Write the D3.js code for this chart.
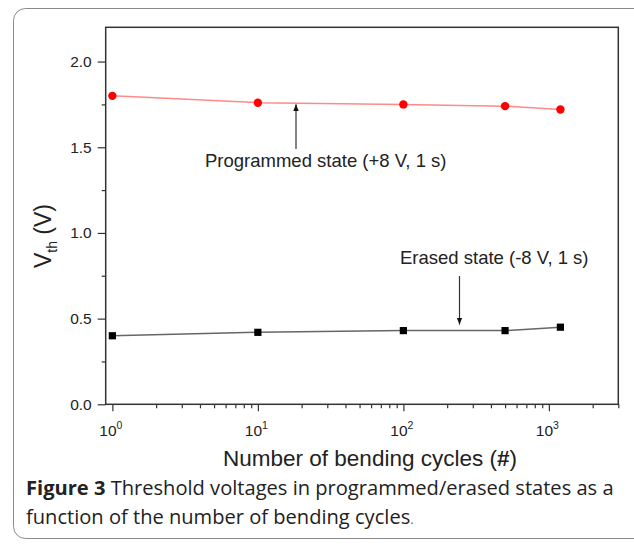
<!DOCTYPE html>
<html>
<head>
<meta charset="utf-8">
<script src="https://cdn.jsdelivr.net/npm/d3@7"></script>
<style>
body { margin: 0; background: #fff; }
svg { display: block; }
.tick text { font-family: "Liberation Sans", Arial, sans-serif; font-size: 15.5px; fill: #222; }
.tick line { stroke: #333; stroke-width: 1.2; }
.domain { display: none; }
</style>
</head>
<body>
<script>
var width = 634,
    height = 547;
var margin = {left: 105.7, right: 618.3, top: 27.3, bottom: 404.3};

var cycles = [1, 10, 100, 500, 1200];
var programmed = [1.80, 1.76, 1.75, 1.74, 1.72];
var erased = [0.40, 0.42, 0.43, 0.43, 0.45];
var yTicks = [0, 0.5, 1.0, 1.5, 2.0];
var yMinor = [0.25, 0.75, 1.25, 1.75];
var xTicks = [1, 10, 100, 1000];
var xDomain = [0.9, 3000],
    yDomain = [0, 2.2];

var svg = d3.select("body").append("svg")
    .attr("width", width)
    .attr("height", height);

// outer figure box
svg.append("rect")
    .attr("x", 13.5).attr("y", 8.5)
    .attr("width", 640).attr("height", 530)
    .attr("rx", 12)
    .attr("fill", "none")
    .attr("stroke", "#8a8a8a")
    .attr("stroke-width", 1);

var x = d3.scaleLog().domain(xDomain).range([margin.left, margin.right]);
var y = d3.scaleLinear().domain(yDomain).range([margin.bottom, margin.top]);

svg.append("defs").append("marker")
    .attr("id", "arrow")
    .attr("viewBox", "0 0 10 10")
    .attr("refX", 10).attr("refY", 5)
    .attr("markerWidth", 7).attr("markerHeight", 7)
    .attr("markerUnits", "userSpaceOnUse")
    .attr("orient", "auto")
    .append("path")
    .attr("d", "M0,1L10,5L0,9Z")
    .attr("fill", "#111");

// y axis
svg.append("g")
    .attr("transform", "translate(" + margin.left + ",0)")
    .call(d3.axisLeft(y).tickValues(yTicks).tickSize(8).tickPadding(6).tickFormat(d3.format(".1f")));
svg.append("g")
    .attr("transform", "translate(" + margin.left + ",0)")
    .call(d3.axisLeft(y).tickValues(yMinor).tickSize(4).tickFormat(""));

// x axis
var xMinor = x.ticks().filter(function (d) {
    return xTicks.indexOf(d) < 0 && d > 1;
});
var xAxisG = svg.append("g")
    .attr("transform", "translate(0," + margin.bottom + ")")
    .call(d3.axisBottom(x).tickValues(xTicks).tickSize(7).tickFormat(""));
svg.append("g")
    .attr("transform", "translate(0," + margin.bottom + ")")
    .call(d3.axisBottom(x).tickValues(xMinor).tickSize(4).tickFormat(""));

xAxisG.selectAll(".tick").append("text")
    .attr("y", 32)
    .attr("x", -2)
    .attr("text-anchor", "middle")
    .each(function (d) {
        var t = d3.select(this);
        t.append("tspan").text("10");
        t.append("tspan")
            .attr("dy", -7)
            .style("font-size", "10.5px")
            .text(Math.round(Math.log10(d)));
    });

// frame
svg.append("rect")
    .attr("x", margin.left).attr("y", margin.top)
    .attr("width", margin.right - margin.left)
    .attr("height", margin.bottom - margin.top)
    .attr("fill", "none")
    .attr("stroke", "#333")
    .attr("stroke-width", 1.5);

var line = d3.line()
    .x(function (d) { return x(d[0]); })
    .y(function (d) { return y(d[1]); });

var progData = d3.zip(cycles, programmed),
    eraData = d3.zip(cycles, erased);

svg.append("path")
    .attr("d", line(progData))
    .attr("fill", "none")
    .attr("stroke", "#ff8a8a")
    .attr("stroke-width", 1.5);
svg.selectAll("circle.prog")
    .data(progData)
    .enter().append("circle")
    .attr("class", "prog")
    .attr("cx", function (d) { return x(d[0]); })
    .attr("cy", function (d) { return y(d[1]); })
    .attr("r", 4.2)
    .attr("fill", "#ff0000");

svg.append("path")
    .attr("d", line(eraData))
    .attr("fill", "none")
    .attr("stroke", "#666")
    .attr("stroke-width", 1.5);
svg.selectAll("rect.era")
    .data(eraData)
    .enter().append("rect")
    .attr("class", "era")
    .attr("x", function (d) { return x(d[0]) - 3.6; })
    .attr("y", function (d) { return y(d[1]) - 3.6; })
    .attr("width", 7.2).attr("height", 7.2)
    .attr("fill", "#000");

// annotations
var label = "'Liberation Sans', Arial, sans-serif";
svg.append("line")
    .attr("x1", 296).attr("y1", 149)
    .attr("x2", 296).attr("y2", y(1.757) + 1)
    .attr("stroke", "#333").attr("stroke-width", 1.2)
    .attr("marker-end", "url(#arrow)");
svg.append("text")
    .attr("x", 205).attr("y", 167)
    .style("font-family", label).style("font-size", "18.5px").style("fill", "#222")
    .text("Programmed state (+8 V, 1 s)");

svg.append("line")
    .attr("x1", 459.5).attr("y1", 276)
    .attr("x2", 459.5).attr("y2", y(0.43) - 6)
    .attr("stroke", "#333").attr("stroke-width", 1.2)
    .attr("marker-end", "url(#arrow)");
svg.append("text")
    .attr("x", 400).attr("y", 264)
    .style("font-family", label).style("font-size", "18.5px").style("fill", "#222")
    .text("Erased state (-8 V, 1 s)");

// axis titles
var xt = svg.append("text")
    .attr("x", 370).attr("y", 466)
    .attr("text-anchor", "middle")
    .style("font-family", label).style("font-size", "22.5px").style("fill", "#222");
xt.append("tspan").text("Number of bending cycles (");
xt.append("tspan").style("font-weight", "bold").text("#");
xt.append("tspan").text(")");

var yt = svg.append("text")
    .attr("transform", "translate(51,236) rotate(-90)")
    .attr("text-anchor", "middle")
    .style("font-family", label).style("font-size", "23px").style("fill", "#222");
yt.append("tspan").text("V");
yt.append("tspan").attr("dy", 6).style("font-size", "14px").text("th");
yt.append("tspan").attr("dy", -6).text(" (V)");

// caption
var cap = "'Open Sans', 'Noto Sans', sans-serif";
var c1 = svg.append("text")
    .attr("x", 26).attr("y", 495)
    .style("font-family", cap).style("font-size", "20.1px").style("fill", "#222");
c1.append("tspan").style("font-weight", "bold").text("Figure 3");
c1.append("tspan").text(" Threshold voltages in programmed/erased states as a");
var c2 = svg.append("text")
    .attr("x", 26).attr("y", 524)
    .style("font-family", cap).style("font-size", "20.1px").style("fill", "#222");
c2.append("tspan").text("function of the number of bending cycles");
c2.append("tspan").style("font-size", "13px").style("fill", "#666").text(".");
</script>
</body>
</html>
